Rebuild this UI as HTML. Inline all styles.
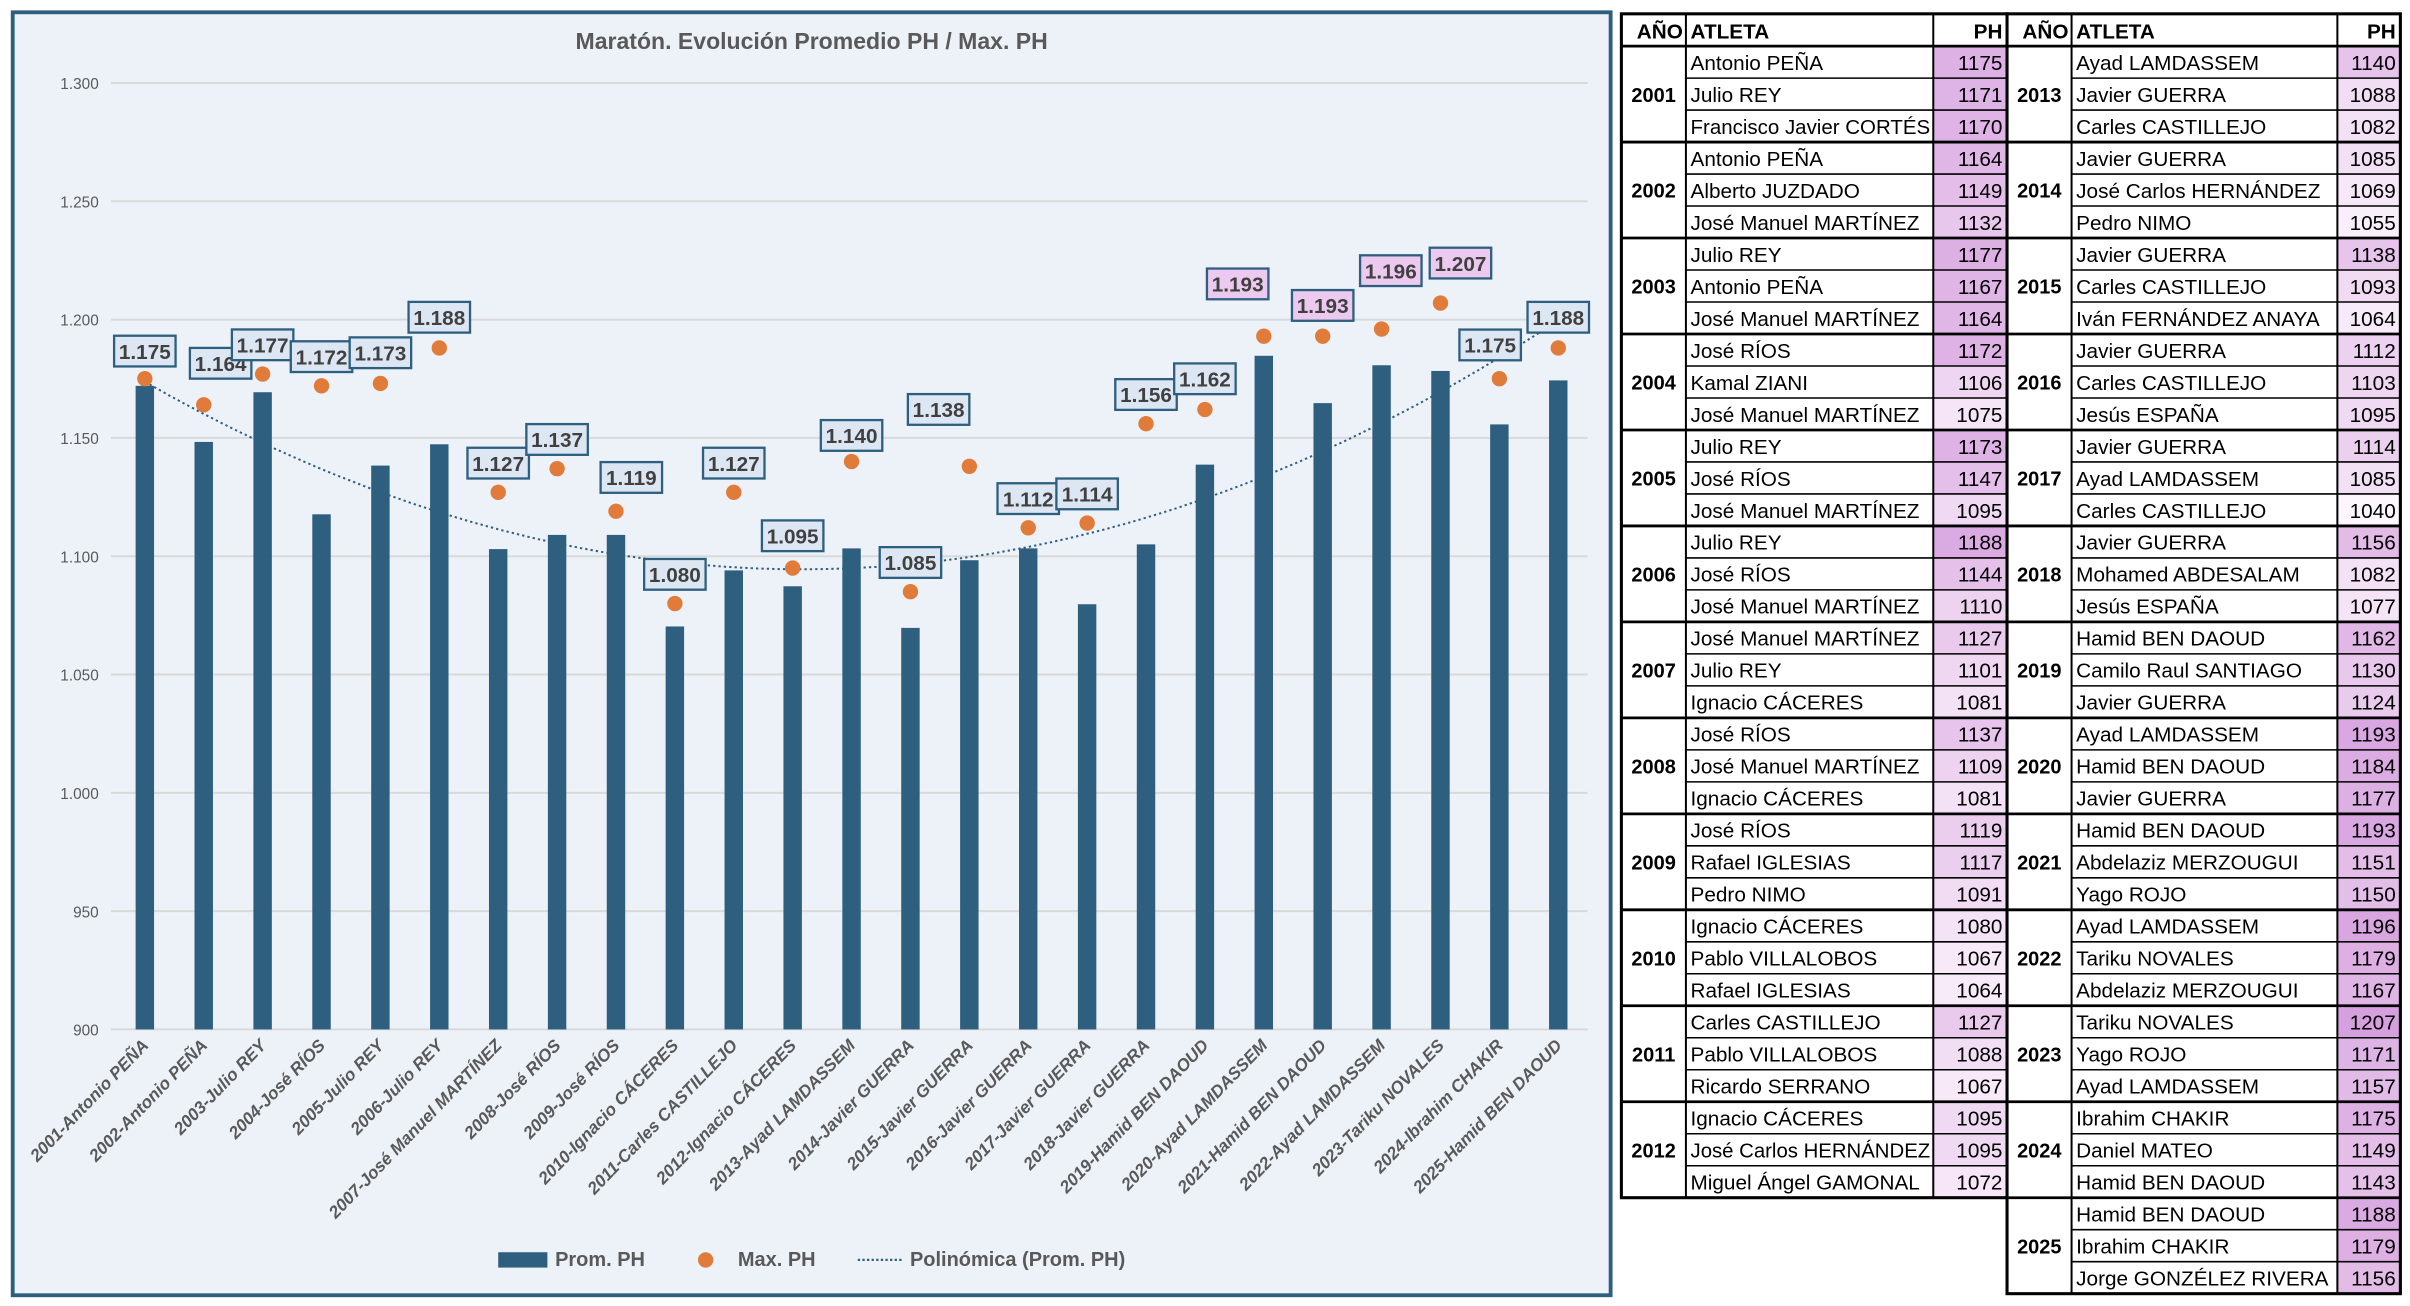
<!DOCTYPE html>
<html><head><meta charset="utf-8"><style>
html,body{margin:0;padding:0;background:#fff;}
svg{display:block;font-family:"Liberation Sans",sans-serif;}
</style></head><body>
<svg id="root" width="2410" height="1306" viewBox="0 0 1568 850" xmlns="http://www.w3.org/2000/svg">
<rect x="0" y="0" width="1568" height="850" fill="#fff"/>
<rect x="8" y="8" width="1040" height="835" fill="#edf2f9" stroke="#2e5f7f" stroke-width="2.5"/>
<text x="528" y="32" text-anchor="middle" font-size="15" font-weight="bold" fill="#595959">Maratón. Evolución Promedio PH / Max. PH</text>
<g id="grid"></g><g id="bars"></g><g id="trend"></g><g id="dots"></g><g id="labels"></g><g id="xlabels"></g>
<g>
<rect x="324" y="815" width="32" height="10" fill="#2e5f7f"/>
<text x="361" y="824" font-size="13" font-weight="bold" fill="#595959">Prom. PH</text>
<circle cx="459" cy="820" r="5" fill="#e07b39"/>
<text x="480" y="824" font-size="13" font-weight="bold" fill="#595959">Max. PH</text>
<line x1="558" y1="820" x2="588" y2="820" stroke="#2e5f7f" stroke-width="1.5" stroke-dasharray="1.5 1.5"/>
<text x="592" y="824" font-size="13" font-weight="bold" fill="#595959">Polinómica (Prom. PH)</text>
</g>
<g id="table"></g>
</svg>
<script>
const categories=["2001-Antonio PEÑA","2002-Antonio PEÑA","2003-Julio REY","2004-José RÍOS","2005-Julio REY","2006-Julio REY","2007-José Manuel MARTÍNEZ","2008-José RÍOS","2009-José RÍOS","2010-Ignacio CÁCERES","2011-Carles CASTILLEJO","2012-Ignacio CÁCERES","2013-Ayad LAMDASSEM","2014-Javier GUERRA","2015-Javier GUERRA","2016-Javier GUERRA","2017-Javier GUERRA","2018-Javier GUERRA","2019-Hamid BEN DAOUD","2020-Ayad LAMDASSEM","2021-Hamid BEN DAOUD","2022-Ayad LAMDASSEM","2023-Tariku NOVALES","2024-Ibrahim CHAKIR","2025-Hamid BEN DAOUD"];
const promPH=[1172,1148.3,1169.3,1117.7,1138.3,1147.3,1103,1109,1109,1070.3,1094,1087.3,1103.3,1069.7,1098.3,1103.3,1079.7,1105,1138.7,1184.7,1164.7,1180.7,1178.3,1155.7,1174.3];
const maxPH=[1175,1164,1177,1172,1173,1188,1127,1137,1119,1080,1127,1095,1140,1085,1138,1112,1114,1156,1162,1193,1193,1196,1207,1175,1188];
const yTicks=[900,950,1000,1050,1100,1150,1200,1250,1300];
const yTickLabels=["900","950","1.000","1.050","1.100","1.150","1.200","1.250","1.300"];
const labelDx=[0,11,0,0,0,0,0,0,10,0,0,0,0,0,-20,0,0,0,0,-17,0,6,13,-6,0];
const labelDy=[-18,-27,-19,-19,-20,-20,-19,-19,-22,-19,-19,-21,-17,-19,-37,-19,-19,-19,-20,-34,-20,-38,-26,-22,-20];
const highlightLabels=[19,20,21,22];
const NS="http://www.w3.org/2000/svg";
function mk(t,a,p){const e=document.createElementNS(NS,t);for(const k in a)e.setAttribute(k,a[k]);p.appendChild(e);return e;}
const yS=v=>670-(v-900)*616/400;
const xS=i=>94+i*38.33;
const g=id=>document.getElementById(id);
yTicks.forEach((t,i)=>{
 const l=mk('line',{x1:72,x2:1033,y1:yS(t),y2:yS(t),stroke:'#d9d9d9','stroke-width':1.3},g('grid'));
 
 
 const tx=mk('text',{x:64,y:yS(t)+4,'text-anchor':'end','font-size':10,fill:'#595959'},g('grid'));
 tx.textContent=yTickLabels[i];
 
 
});
promPH.forEach((v,i)=>{
 const r=mk('rect',{x:xS(i)-6,y:yS(v),width:12,height:yS(900)-yS(v),fill:'#2e5f7f'},g('bars'));
 
 
});
(function(){
 const n=promPH.length;let S=[0,0,0,0,0],T=[0,0,0];
 for(let i=0;i<n;i++){const x=i+1;for(let k=0;k<5;k++)S[k]+=Math.pow(x,k);for(let k=0;k<3;k++)T[k]+=promPH[i]*Math.pow(x,k);}
 const A=[[S[0],S[1],S[2],T[0]],[S[1],S[2],S[3],T[1]],[S[2],S[3],S[4],T[2]]];
 for(let c=0;c<3;c++){for(let r=c+1;r<3;r++){const f=A[r][c]/A[c][c];for(let k=c;k<4;k++)A[r][k]-=f*A[c][k];}}
 const s=[0,0,0];for(let r=2;r>=0;r--){let v=A[r][3];for(let k=r+1;k<3;k++)v-=A[r][k]*s[k];s[r]=v/A[r][r];}
 let d='';for(let t=0;t<=240;t++){const x=1+t*(n-1)/240;const y=s[0]+s[1]*x+s[2]*x*x;d+=(t?'L':'M')+(94+(x-1)*38.33).toFixed(1)+' '+yS(y).toFixed(1);}
 const p=mk('path',{d:d,fill:'none',stroke:'#2e5f7f','stroke-width':1.3,'stroke-dasharray':'1.5 2'},g('trend'));
 
 
})();
maxPH.forEach((v,i)=>{
 const c=mk('circle',{cx:xS(i),cy:yS(v),r:5,fill:'#e07b39'},g('dots'));
 
 
 const cx=xS(i)+labelDx[i],cy=yS(v)+labelDy[i];
 const gg=mk('g',{},g('labels'));
 
 
 const pink=highlightLabels.includes(i);
 mk('rect',{x:cx-20,y:cy-10,width:40,height:20,fill:pink?'#ecc9ee':'#dde7f3',stroke:'#2e5f7f','stroke-width':1.5},gg);
 const t=mk('text',{x:cx,y:cy+5,'text-anchor':'middle','font-size':13.5,'font-weight':'bold',fill:'#404040'},gg);
 t.textContent=(v/1000).toFixed(3);
});
categories.forEach((c,i)=>{
 const t=mk('text',{transform:`translate(${xS(i)+3},${681}) rotate(-46)`,'text-anchor':'end','font-size':11.2,'font-weight':'bold','font-style':'italic',fill:'#595959'},g('xlabels'));
 t.textContent=c;
 
 
});
const years=[2001,2002,2003,2004,2005,2006,2007,2008,2009,2010,2011,2012,2013,2014,2015,2016,2017,2018,2019,2020,2021,2022,2023,2024,2025];
const athletes=[["Antonio PEÑA","Julio REY","Francisco Javier CORTÉS"],["Antonio PEÑA","Alberto JUZDADO","José Manuel MARTÍNEZ"],["Julio REY","Antonio PEÑA","José Manuel MARTÍNEZ"],["José RÍOS","Kamal ZIANI","José Manuel MARTÍNEZ"],["Julio REY","José RÍOS","José Manuel MARTÍNEZ"],["Julio REY","José RÍOS","José Manuel MARTÍNEZ"],["José Manuel MARTÍNEZ","Julio REY","Ignacio CÁCERES"],["José RÍOS","José Manuel MARTÍNEZ","Ignacio CÁCERES"],["José RÍOS","Rafael IGLESIAS","Pedro NIMO"],["Ignacio CÁCERES","Pablo VILLALOBOS","Rafael IGLESIAS"],["Carles CASTILLEJO","Pablo VILLALOBOS","Ricardo SERRANO"],["Ignacio CÁCERES","José Carlos HERNÁNDEZ","Miguel Ángel GAMONAL"],["Ayad LAMDASSEM","Javier GUERRA","Carles CASTILLEJO"],["Javier GUERRA","José Carlos HERNÁNDEZ","Pedro NIMO"],["Javier GUERRA","Carles CASTILLEJO","Iván FERNÁNDEZ ANAYA"],["Javier GUERRA","Carles CASTILLEJO","Jesús ESPAÑA"],["Javier GUERRA","Ayad LAMDASSEM","Carles CASTILLEJO"],["Javier GUERRA","Mohamed ABDESALAM","Jesús ESPAÑA"],["Hamid BEN DAOUD","Camilo Raul SANTIAGO","Javier GUERRA"],["Ayad LAMDASSEM","Hamid BEN DAOUD","Javier GUERRA"],["Hamid BEN DAOUD","Abdelaziz MERZOUGUI","Yago ROJO"],["Ayad LAMDASSEM","Tariku NOVALES","Abdelaziz MERZOUGUI"],["Tariku NOVALES","Yago ROJO","Ayad LAMDASSEM"],["Ibrahim CHAKIR","Daniel MATEO","Hamid BEN DAOUD"],["Hamid BEN DAOUD","Ibrahim CHAKIR","Jorge GONZÉLEZ RIVERA"]];
const marks=[[1175,1171,1170],[1164,1149,1132],[1177,1167,1164],[1172,1106,1075],[1173,1147,1095],[1188,1144,1110],[1127,1101,1081],[1137,1109,1081],[1119,1117,1091],[1080,1067,1064],[1127,1088,1067],[1095,1095,1072],[1140,1088,1082],[1085,1069,1055],[1138,1093,1064],[1112,1103,1095],[1114,1085,1040],[1156,1082,1077],[1162,1130,1124],[1193,1184,1177],[1193,1151,1150],[1196,1179,1167],[1207,1171,1157],[1175,1149,1143],[1188,1179,1156]];
const T=g('table');const RH=20.82,top0=9,hdr=21;
function colr(v){const f=Math.max(0,Math.min(1,(v-1040)/(1207-1040)));const a=[253,247,253],b=[214,160,222];return `rgb(${a.map((c,k)=>Math.round(c+(b[k]-c)*f)).join(',')})`;}
function table(x0,cols,ys){
 const W=cols[0]+cols[1]+cols[2];const rows=ys.length*3;
 mk('rect',{x:x0,y:top0,width:W,height:hdr+rows*RH,fill:'#fff'},T);
 const hs=[['AÑO',x0+cols[0]-2,'end'],['ATLETA',x0+cols[0]+3,'start'],['PH',x0+W-3,'end']];
 hs.forEach(h=>{const t=mk('text',{x:h[1],y:top0+16,'text-anchor':h[2],'font-size':13.5,'font-weight':'bold',fill:'#000'},T);t.textContent=h[0];});
 ys.forEach((yi,gi)=>{
  const gy=top0+hdr+gi*3*RH;
  const yt=mk('text',{x:x0+cols[0]/2,y:gy+1.5*RH+5,'text-anchor':'middle','font-size':13,'font-weight':'bold'},T);yt.textContent=years[yi];
  
  
  for(let r=0;r<3;r++){
   const ry=gy+r*RH;
   mk('rect',{x:x0+cols[0]+cols[1],y:ry,width:cols[2],height:RH,fill:colr(marks[yi][r])},T);
   const a=mk('text',{x:x0+cols[0]+3,y:ry+15.5,'font-size':13.5},T);a.textContent=athletes[yi][r];
   
   
   if(a.getComputedTextLength()>cols[1]-5){a.setAttribute('textLength',cols[1]-5);a.setAttribute('lengthAdjust','spacingAndGlyphs');}
   const p=mk('text',{x:x0+W-3,y:ry+15.5,'text-anchor':'end','font-size':13.5},T);p.textContent=marks[yi][r];
   
   
   if(r>0)mk('line',{x1:x0+cols[0],x2:x0+W,y1:ry,y2:ry,stroke:'#000','stroke-width':1},T);
  }
  mk('line',{x1:x0,x2:x0+W,y1:gy,y2:gy,stroke:'#000','stroke-width':1.8},T);
 });
 mk('line',{x1:x0+cols[0],x2:x0+cols[0],y1:top0,y2:top0+hdr+rows*RH,stroke:'#000','stroke-width':1.3},T);
 mk('line',{x1:x0+cols[0]+cols[1],x2:x0+cols[0]+cols[1],y1:top0,y2:top0+hdr+rows*RH,stroke:'#000','stroke-width':1.3},T);
 mk('rect',{x:x0,y:top0,width:W,height:hdr+rows*RH,fill:'none',stroke:'#000','stroke-width':2},T);
}
table(1055,[42,161,48],[0,1,2,3,4,5,6,7,8,9,10,11]);
table(1306,[42,173,41],[12,13,14,15,16,17,18,19,20,21,22,23,24]);
</script>
</body></html>
